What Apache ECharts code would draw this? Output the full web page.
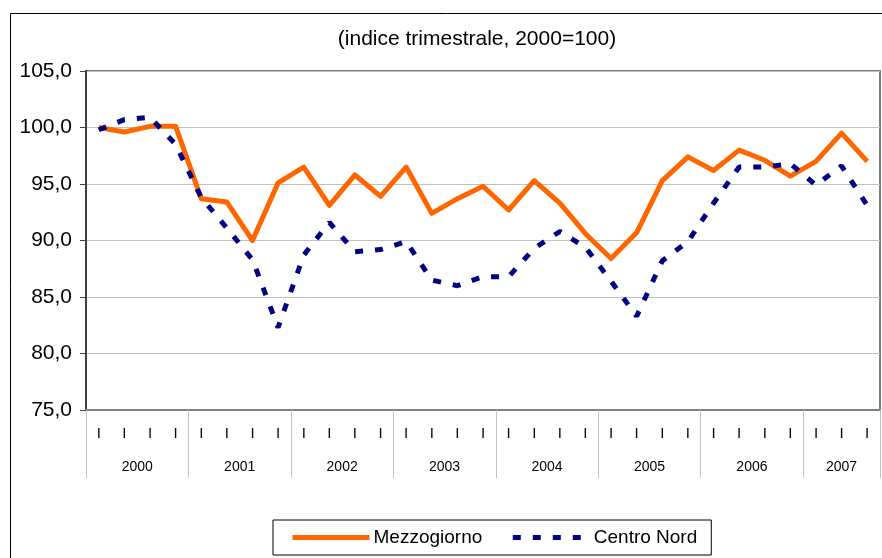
<!DOCTYPE html>
<html>
<head>
<meta charset="utf-8">
<script src="https://cdn.jsdelivr.net/npm/echarts@6/dist/echarts.min.js"></script>
<style>
  html, body { margin: 0; padding: 0; background: #fff; }
  #chart { width: 882px; height: 558px; }
</style>
</head>
<body>
<div id="chart"></div>
<script>
// quarterly index, 2000=100 (2000 Q1 .. 2007 Q3)
const years = ['2000', '2001', '2002', '2003', '2004', '2005', '2006', '2007'];
const quartersPerYear = [4, 4, 4, 4, 4, 4, 4, 3];
const mezzogiorno = [100.0, 99.6, 100.1, 100.1, 93.7, 93.4, 90.0, 95.1, 96.5, 93.1, 95.8, 93.9,
  96.5, 92.4, 93.7, 94.8, 92.7, 95.3, 93.3, 90.6, 88.4, 90.7, 95.3, 97.4, 96.2, 98.0, 97.1,
  95.7, 97.0, 99.5, 97.0];
const centroNord = [99.8, 100.7, 100.9, 98.5, 93.8, 91.1, 88.3, 82.3, 88.7, 91.6, 89.0, 89.2,
  89.9, 86.5, 86.0, 86.8, 86.8, 89.3, 90.8, 89.4, 86.4, 83.3, 88.2, 89.9, 93.3, 96.5, 96.5,
  96.8, 94.9, 96.6, 93.1];

// quarter tick labels and a half-quarter helper axis for year labels / separators
const quarterLabels = [];
const boundaries = [];
const centers = {};
let start = 0;
years.forEach((y, k) => {
  boundaries.push(start * 2);
  centers[start * 2 + quartersPerYear[k]] = y;
  for (let q = 0; q < quartersPerYear[k]; q++) quarterLabels.push('I');
  start += quartersPerYear[k];
});
boundaries.push(start * 2);
const halfSteps = [];
for (let i = 0; i <= start * 2; i++) halfSteps.push(String(i));

const font = 'Liberation Sans, Arial, sans-serif';
let myChart = echarts.init(document.getElementById('chart'));
myChart.setOption({
  animation: false,
  title: {
    text: '(indice trimestrale, 2000=100)',
    left: 472,
    textAlign: 'center',
    top: 24,
    textStyle: { fontFamily: font, fontSize: 21, fontWeight: 'normal', color: '#000' }
  },
  graphic: [{
    type: 'rect',
    shape: { x: 10.5, y: 13.5, width: 1000, height: 1000 },
    style: { fill: 'none', stroke: '#000', lineWidth: 1 },
    silent: true
  }],
  grid: {
    left: 86,
    right: 2,
    top: 71,
    bottom: 148,
    show: true,
    borderColor: '#808080',
    borderWidth: 2
  },
  legend: {
    left: 273,
    top: 520,
    padding: [8, 14, 8, 17],
    borderColor: '#000',
    borderWidth: 1,
    itemWidth: 77,
    itemHeight: 14,
    itemGap: 28,
    itemStyle: { color: 'rgba(0,0,0,0)', borderWidth: 0, opacity: 0 },
    lineStyle: { width: 5 },
    textStyle: { fontFamily: font, fontSize: 19, color: '#000', padding: [0, 0, 0, -1] },
    data: ['Mezzogiorno', 'Centro Nord']
  },
  xAxis: [{
    type: 'category',
    data: quarterLabels,
    boundaryGap: true,
    axisLine: { lineStyle: { color: '#808080', width: 2 } },
    axisTick: { show: false },
    axisLabel: { interval: 0, margin: 16, fontFamily: font, fontSize: 15, color: '#000' },
    splitLine: { show: false }
  }, {
    type: 'category',
    data: halfSteps,
    boundaryGap: false,
    position: 'bottom',
    axisLine: { show: false },
    axisTick: {
      interval: (i) => boundaries.includes(i),
      length: 68,
      lineStyle: { color: '#c0c0c0', width: 1 }
    },
    axisLabel: {
      interval: (i) => centers[i] !== undefined,
      formatter: (v) => centers[v] || '',
      margin: 50,
      fontFamily: font,
      fontSize: 14,
      color: '#000'
    },
    splitLine: { show: false }
  }],
  yAxis: {
    type: 'value',
    min: 75,
    max: 105,
    interval: 5,
    axisLine: { show: true, lineStyle: { color: '#404040', width: 2 } },
    axisTick: { show: true, length: 6, lineStyle: { color: '#404040' } },
    axisLabel: {
      margin: 14,
      fontFamily: font,
      fontSize: 21,
      color: '#000',
      formatter: (v) => v.toFixed(1).replace('.', ',')
    },
    splitLine: { lineStyle: { color: '#c0c0c0', width: 1 } }
  },
  series: [{
    name: 'Mezzogiorno',
    type: 'line',
    data: mezzogiorno,
    symbol: 'none',
    lineStyle: { color: '#FF6600', width: 5, join: 'round' },
    itemStyle: { color: '#FF6600' },
    z: 3
  }, {
    name: 'Centro Nord',
    type: 'line',
    data: centroNord,
    symbol: 'none',
    lineStyle: { color: '#000080', width: 5, type: [8, 12], cap: 'butt' },
    itemStyle: { color: '#000080' },
    z: 4
  }]
});
</script>
</body>
</html>
